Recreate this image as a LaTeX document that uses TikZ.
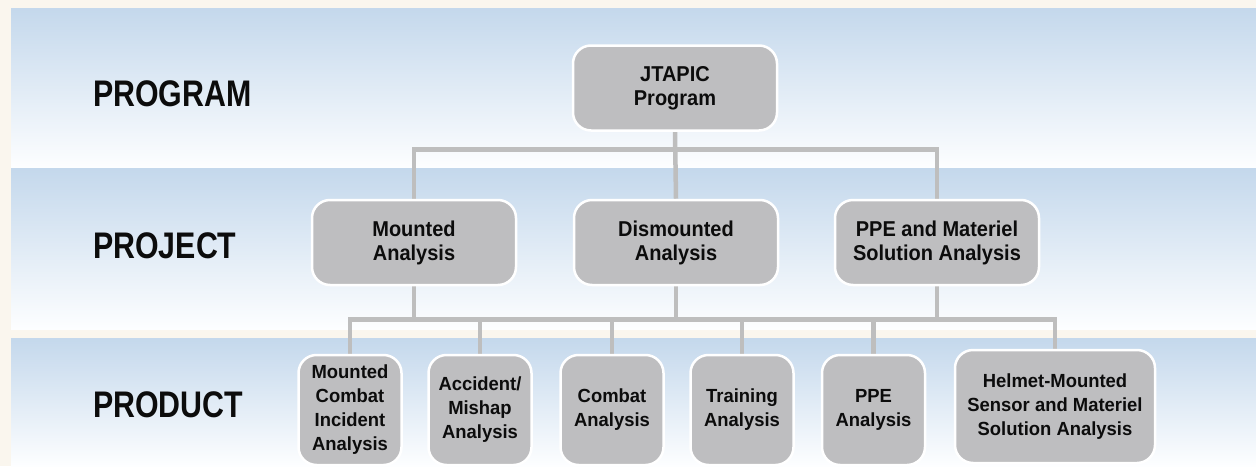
\documentclass[tikz,border=0pt]{standalone}
\usepackage{fontspec}
\setmainfont{Liberation Sans}
\newfontfamily\boxfont{Liberation Sans}[FakeStretch=0.93]
\newfontfamily\smallboxfont{Liberation Sans}[FakeStretch=0.97]
\newfontfamily\tierfont{Liberation Sans}[FakeStretch=0.82]
\definecolor{cream}{RGB}{250,246,238}
\definecolor{bandtop}{RGB}{196,216,236}
\definecolor{bandbot}{RGB}{253,254,255}
\definecolor{boxgray}{RGB}{190,190,192}
\definecolor{linkgray}{RGB}{190,190,190}
\definecolor{ink}{RGB}{12,12,12}
\pgfdeclarelayer{bands}
\pgfdeclarelayer{links}
\pgfsetlayers{bands,links,main}
\tikzset{
  band/.style={top color=bandtop, bottom color=bandbot, draw=none},
  tier/.style={anchor=base west, inner sep=0, text=ink,
    font=\tierfont\bfseries\fontsize{37}{40}\selectfont},
  unit/.style={rectangle, rounded corners=18pt, draw=white, line width=2.5pt,
    fill=boxgray, inner sep=0, align=center, text=ink},
  upper/.style={unit, minimum width=204pt, minimum height=85pt,
    font=\boxfont\bfseries\fontsize{21.5}{24}\selectfont},
  lower/.style={unit, minimum width=103pt, minimum height=110pt,
    font=\smallboxfont\bfseries\fontsize{19}{24}\selectfont},
  link/.style={draw=linkgray, line width=4.5pt}
}
\begin{document}
\begin{tikzpicture}[x=1pt, y=-1pt]
  \useasboundingbox (0,0) rectangle (1256,466);

  % page background and the three tier bands
  \begin{pgfonlayer}{bands}
    \fill[cream] (0,0) rectangle (1256,466);
    \shade[band] (11,8) rectangle (1256,168);
    \shade[band] (11,168) rectangle (1256,329);
    \shade[band] (11,338) rectangle (1256,466);
  \end{pgfonlayer}

  % tier labels
  \node[tier] (lprog) at (93,106) {PROGRAM};
  \node[tier] (lproj) at (93,258) {PROJECT};
  \node[tier] (lprod) at (93,417) {PRODUCT};

  % program
  \node[upper] (jtapic) at (675,88) {JTAPIC\\Program};

  % projects
  \node[upper] (mnt) at (414,242.5) {Mounted\\Analysis};
  \node[upper] (dis) at (676,242.5) {Dismounted\\Analysis};
  \node[upper] (ppem) at (937,242.5) {PPE and Materiel\\Solution Analysis};

  % products
  \node[lower] (mcia) at (350,410) {Mounted\\Combat\\Incident\\Analysis};
  \node[lower] (acc) at (480,410) {Accident/\\Mishap\\Analysis};
  \node[lower] (cmb) at (612,410) {Combat\\Analysis};
  \node[lower] (trn) at (742,410) {Training\\Analysis};
  \node[lower] (ppe) at (873.5,410) {PPE\\Analysis};
  \node[lower, minimum width=200pt, minimum height=113pt] (hms) at (1055,406.5)
    {Helmet-Mounted\\Sensor and Materiel\\Solution Analysis};

  % bus levels
  \coordinate (busA) at (0,149.5);
  \coordinate (busB) at (0,319.5);

  \begin{pgfonlayer}{links}
    % program to projects
    \draw[link] (jtapic.south) -- (dis.north);
    \draw[link] (mnt.north) |- (ppem.north |- busA) -- (ppem.north);
    % projects to products
    \draw[link] (mnt.south) -- (mnt.south |- busB);
    \draw[link] (dis.south) -- (dis.south |- busB);
    \draw[link] (ppem.south) -- (ppem.south |- busB);
    \draw[link] (mcia.north) |- (hms.north |- busB) -- (hms.north);
    \draw[link] (acc.north) -- (acc.north |- busB);
    \draw[link] (cmb.north) -- (cmb.north |- busB);
    \draw[link] (trn.north) -- (trn.north |- busB);
    \draw[link] (ppe.north) -- (ppe.north |- busB);
  \end{pgfonlayer}
\end{tikzpicture}
\end{document}
